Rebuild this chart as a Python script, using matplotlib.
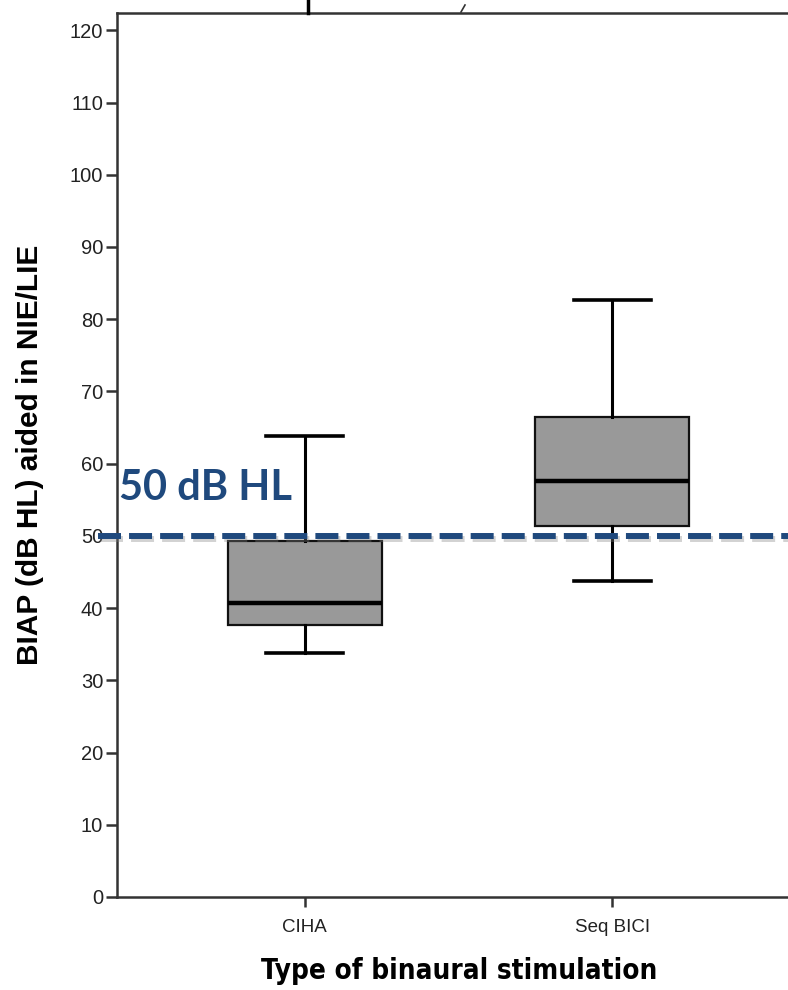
import matplotlib
matplotlib.use("Agg")
import matplotlib.pyplot as plt
from matplotlib import patheffects
from matplotlib.lines import Line2D

# BIAP aided thresholds per stimulation type (dB HL)
groups = ["CIHA", "Seq BICI"]
whisker_low = [33.8, 43.8]
q1 = [37.6, 51.4]
median = [40.7, 57.6]
q3 = [49.3, 66.4]
whisker_high = [63.9, 82.6]
reference_level = 50
reference_label = "50 dB HL"
yticks = list(range(0, 121, 10))

blue = "#1F497D"

fig = plt.figure(figsize=(7.88, 9.9), dpi=100)
ax = fig.add_axes([117 / 788, 93 / 990, 683 / 788, 884 / 990])

stats = []
for i, name in enumerate(groups):
    stats.append({
        "label": name,
        "whislo": whisker_low[i],
        "q1": q1[i],
        "med": median[i],
        "q3": q3[i],
        "whishi": whisker_high[i],
        "fliers": [],
    })

ax.bxp(stats, positions=[1, 2], widths=0.5, patch_artist=True,
       showfliers=False,
       boxprops=dict(facecolor="#999999", edgecolor="#111111", linewidth=1.6),
       medianprops=dict(color="black", linewidth=3.2, solid_capstyle="butt"),
       whiskerprops=dict(color="black", linewidth=2.2),
       capprops=dict(color="black", linewidth=2.6),
       capwidths=0.25)

ax.set_xlim(0.39, 2.61)
ax.set_ylim(0, 122.4)
ax.set_yticks(yticks)
ax.set_xticks([1, 2])
ax.set_xticklabels(groups)

for side in ["left", "bottom", "top", "right"]:
    ax.spines[side].set_linewidth(1.8)
    ax.spines[side].set_color("#333333")

ax.tick_params(axis="y", direction="out", length=8, width=1.8, color="#333333",
               labelsize=14.5, labelcolor="#222222", pad=2)
ax.tick_params(axis="x", direction="out", length=7, width=1.8, color="#333333",
               labelsize=13.5, labelcolor="#222222", pad=9)
for lab in ax.get_yticklabels() + ax.get_xticklabels():
    lab.set_family("Liberation Sans")

# reference threshold, a little past the axis on the left
ax.axhline(reference_level, xmin=-19 / 683, xmax=1, color=blue, linewidth=4.3,
           dashes=(3.85, 1.35), dash_capstyle="butt", clip_on=False, zorder=5,
           path_effects=[patheffects.SimpleLineShadow(offset=(1.5, -2), shadow_color="gray",
                                                      alpha=0.35),
                         patheffects.Normal()])
ax.text(0.395, reference_level + 4.0, reference_label, color=blue, fontsize=30,
        fontweight="bold", family="Lato", ha="left", va="bottom")

fig.text(30 / 788, 1 - 455 / 990, "BIAP (dB HL) aided in NIE/LIE", rotation=90,
         ha="center", va="center", fontsize=21.5, fontweight="bold",
         family=["Liberation Sans Narrow", "Liberation Sans"])
fig.text(459 / 788, 1 - 971 / 990, "Type of binaural stimulation", ha="center",
         va="center", fontsize=20, fontweight="bold", family="DejaVu Sans",
         fontstretch="condensed")

# stray marks above the frame
fig.add_artist(Line2D([308 / 788, 308 / 788], [1 - 13 / 990, 1.0], color="black",
                      linewidth=2.5, transform=fig.transFigure))
fig.add_artist(Line2D([461 / 788, 465 / 788], [1 - 12 / 990, 1 - 5 / 990],
                      color="#333333", linewidth=1.2, transform=fig.transFigure))

fig.savefig("out.png", dpi=100)
